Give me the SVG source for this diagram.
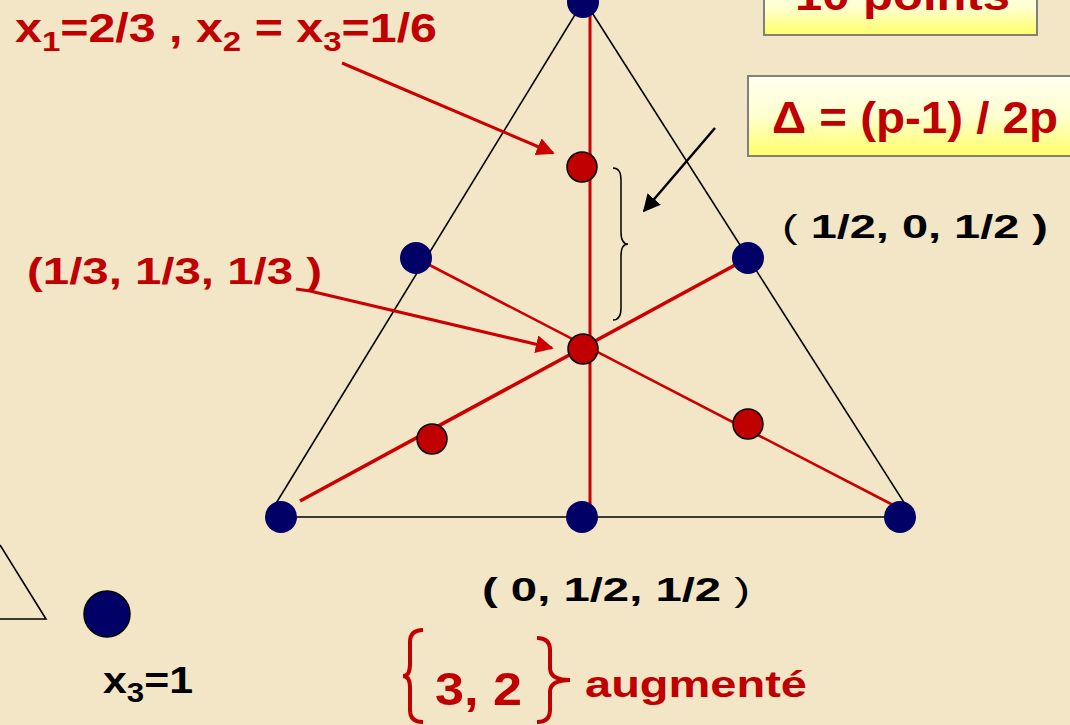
<svg xmlns="http://www.w3.org/2000/svg" width="1070" height="725" viewBox="0 0 1070 725">
<defs>
<style>
.b{font-family:"Liberation Sans",Arial,sans-serif;font-weight:bold}
.red{fill:#c00000}
.blk{fill:#000}
.edge{stroke:#000;stroke-width:1.6;fill:none}
.rl{stroke:#cc0000;stroke-width:3;fill:none}
.bn{fill:#000066}
.rn{fill:#c00000;stroke:#000;stroke-width:1.5}
.box{stroke:#808080;stroke-width:2;fill:url(#yg)}
</style>
<linearGradient id="yg" x1="0" y1="0" x2="0" y2="1">
<stop offset="0" stop-color="#fffff0"/>
<stop offset="0.5" stop-color="#ffffd0"/>
<stop offset="1" stop-color="#ffff66"/>
</linearGradient>
<marker id="ar" viewBox="0 0 10 10" refX="9" refY="5" markerWidth="6" markerHeight="6" markerUnits="strokeWidth" orient="auto">
<path d="M0,0 L10,5 L0,10 z" fill="#cc0000"/>
</marker>
<marker id="ab" viewBox="0 0 10 10" refX="9" refY="5" markerWidth="7" markerHeight="7" markerUnits="strokeWidth" orient="auto">
<path d="M0,0 L10,5 L0,10 z" fill="#000"/>
</marker>
</defs>
<rect width="1070" height="725" fill="#f3e6c6"/>

<g id="triangle">
<line class="edge" x1="584" y1="0" x2="272" y2="510"/>
<line class="edge" x1="584" y1="0" x2="912" y2="515"/>
<line class="edge" x1="281" y1="517" x2="900" y2="517"/>
</g>

<g id="connectors">
<line class="rl" x1="590" y1="14" x2="590" y2="517"/>
<line class="rl" x1="300" y1="501" x2="748" y2="258" style="stroke-width:3.6"/>
<line class="rl" x1="416" y1="258" x2="895" y2="506" style="stroke-width:2.6"/>
<line class="rl" x1="342" y1="63" x2="553" y2="153" marker-end="url(#ar)"/>
<path class="rl" d="M296,289 L310,291 L552,348" marker-end="url(#ar)"/>
<line x1="715" y1="128" x2="644" y2="211" stroke="#000" stroke-width="2.5" marker-end="url(#ab)"/>
<path d="M613,168 Q621,168 621,180 L621,232 Q621,244 628,244 Q621,244 621,256 L621,308 Q621,320 613,320" fill="none" stroke="#000" stroke-width="1.5"/>
</g>

<g id="n-top"><circle class="bn" cx="583" cy="2" r="16"/></g>
<g id="n-bl"><circle class="bn" cx="281" cy="517" r="16"/></g>
<g id="n-bm"><circle class="bn" cx="582" cy="517" r="16"/></g>
<g id="n-br"><circle class="bn" cx="900" cy="517" r="16"/></g>
<g id="n-lm"><circle class="bn" cx="416" cy="258" r="16"/></g>
<g id="n-rm"><circle class="bn" cx="748" cy="258" r="16"/></g>
<g id="n-r1"><circle class="rn" cx="582" cy="167" r="15"/></g>
<g id="n-c"><circle class="rn" cx="583" cy="349" r="15"/></g>
<g id="n-r2"><circle class="rn" cx="432" cy="439" r="15"/></g>
<g id="n-r3"><circle class="rn" cx="748" cy="424" r="15"/></g>

<g id="corner">
<path d="M0,545 L46,619 L0,619" fill="none" stroke="#000" stroke-width="1.6"/>
<circle cx="107" cy="614" r="23" fill="#000066" stroke="#000" stroke-width="1.5"/>
</g>

<g id="box-points">
<rect class="box" x="764" y="-20" width="273" height="55"/>
<text class="b red" x="795" y="10" font-size="42" textLength="215" lengthAdjust="spacingAndGlyphs">10  points</text>
</g>
<g id="box-delta">
<rect class="box" x="748" y="76" width="340" height="80"/>
<text class="b red" x="772" y="133" font-size="44" textLength="286" lengthAdjust="spacingAndGlyphs">Δ = (p-1) / 2p</text>
</g>

<g id="labels">
<text class="b red" x="15" y="42" font-size="41" textLength="422" lengthAdjust="spacingAndGlyphs">x<tspan font-size="28" dy="9">1</tspan><tspan dy="-9">=2/3 ,  x</tspan><tspan font-size="28" dy="9">2</tspan><tspan dy="-9"> = x</tspan><tspan font-size="28" dy="9">3</tspan><tspan dy="-9">=1/6</tspan></text>
<text class="b red" x="27" y="284" font-size="36" textLength="295" lengthAdjust="spacingAndGlyphs">(1/3, 1/3, 1/3 )</text>
<text class="b blk" x="782" y="238" font-size="33" textLength="266" lengthAdjust="spacingAndGlyphs"><tspan font-weight="normal">(</tspan> 1/2, 0, 1/2 )</text>
<text class="b blk" x="482" y="601" font-size="34" textLength="268" lengthAdjust="spacingAndGlyphs">( 0, 1/2, 1/2 <tspan font-weight="normal">)</tspan></text>
<text class="b blk" x="103" y="693" font-size="37" textLength="90" lengthAdjust="spacingAndGlyphs">x<tspan font-size="27" dy="9">3</tspan><tspan dy="-9">=1</tspan></text>
<path d="M423,630 Q410,630 410,642 L410,664 Q410,676 403,676 Q410,676 410,688 L410,710 Q410,722 423,722" fill="none" stroke="#c00000" stroke-width="4"/>
<path d="M537,638 Q550,638 550,650 L550,668 Q550,680 570,680 Q550,680 550,692 L550,710 Q550,722 537,722" fill="none" stroke="#c00000" stroke-width="4"/>
<text class="b red" x="435" y="705" font-size="46" textLength="87" lengthAdjust="spacingAndGlyphs">3, 2</text>
<text class="b red" x="585" y="697" font-size="37" textLength="222" lengthAdjust="spacingAndGlyphs">augmenté</text>
</g>
</svg>
